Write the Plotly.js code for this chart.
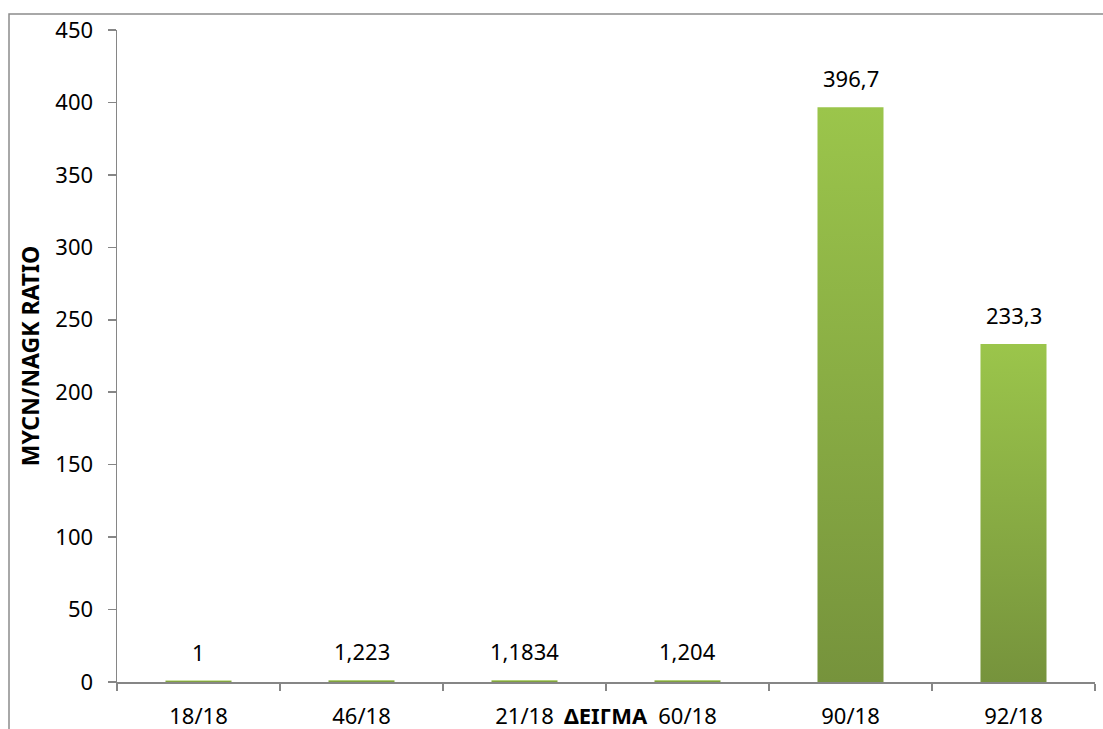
<!DOCTYPE html>
<html>
<head>
<meta charset="utf-8">
<script src="https://cdn.plot.ly/plotly-3.0.1.min.js"></script>
<style>
html,body{margin:0;padding:0;background:#fff;}
#chart{width:1103px;height:729px;}
</style>
</head>
<body>
<div id="chart"></div>
<script>
const categories = ["18/18", "46/18", "21/18", "60/18", "90/18", "92/18"];
const ratios = [1, 1.223, 1.1834, 1.204, 396.7, 233.3];
const yTicks = [0, 50, 100, 150, 200, 250, 300, 350, 400, 450];
const xTitle = "ΔΕΙΓΜΑ";
const yTitle = "MYCN/NAGK RATIO";

const labels = ratios.map(v => String(v).replace('.', ','));
const FONT = "Noto Sans, DejaVu Sans, sans-serif";
const FS = 22;

const W = 1103, H = 729;
const margin = {l: 117, r: 8, t: 30, b: 47};
const pw = W - margin.l - margin.r, ph = H - margin.t - margin.b;
const px = x => (x - margin.l) / pw;
const py = y => (H - margin.b - y) / ph;

const trace = {
  type: 'bar',
  x: categories,
  y: ratios,
  width: 0.405,
  marker: {color: '#8AAE45', line: {width: 0}},
  hoverinfo: 'none'
};

const annotations = categories.map((c, i) => ({
  x: c, y: ratios[i], xref: 'x', yref: 'y',
  text: labels[i], showarrow: false,
  yanchor: 'middle', yshift: 29,
  font: {family: FONT, size: FS, color: '#000'}
}));
annotations.push({
  xref: 'paper', yref: 'paper', x: 0.5, y: 0, yanchor: 'middle', yshift: -33,
  borderpad: 0,
  text: '<b>' + xTitle + '</b>', showarrow: false,
  font: {family: FONT, size: 22, color: '#000'}
});

const layout = {
  width: W, height: H,
  margin: margin,
  paper_bgcolor: '#fff', plot_bgcolor: '#fff',
  showlegend: false,
  xaxis: {
    type: 'category',
    showgrid: false, zeroline: false,
    showline: true, linecolor: '#868686', linewidth: 1.5,
    ticks: 'outside', tickson: 'boundaries', ticklen: 7, tickcolor: '#868686', tickwidth: 1.5,
    tickfont: {family: FONT, size: FS, color: '#000'},
    ticklabelstandoff: 14,
    fixedrange: true
  },
  yaxis: {
    range: [0, 450],
    tickvals: yTicks,
    showgrid: false, zeroline: false,
    showline: true, linecolor: '#868686', linewidth: 1.5,
    ticks: 'outside', ticklen: 8, tickcolor: '#868686', tickwidth: 1.5,
    tickfont: {family: FONT, size: FS, color: '#000'},
    ticklabelstandoff: 10,
    title: {text: '<b>' + yTitle + '</b>', font: {family: FONT, size: 23, color: '#000'}, standoff: 9},
    fixedrange: true
  },
  annotations: annotations,
  shapes: [{
    type: 'rect', xref: 'paper', yref: 'paper',
    x0: px(9), x1: px(1106), y0: py(740), y1: py(14),
    line: {color: '#8c8c8c', width: 1.5}, fillcolor: 'rgba(0,0,0,0)', layer: 'below'
  }]
};

Plotly.newPlot('chart', [trace], layout, {displayModeBar: false, staticPlot: true}).then(gd => {
  const svg = gd.querySelector('svg.main-svg');
  const ns = 'http://www.w3.org/2000/svg';
  let defs = svg.querySelector('defs');
  if (!defs) { defs = document.createElementNS(ns, 'defs'); svg.insertBefore(defs, svg.firstChild); }
  const lg = document.createElementNS(ns, 'linearGradient');
  lg.setAttribute('id', 'barGrad');
  lg.setAttribute('x1', '0'); lg.setAttribute('y1', '0');
  lg.setAttribute('x2', '0'); lg.setAttribute('y2', '1');
  [['0', '#9BC54B'], ['1', '#76933C']].forEach(([o, c]) => {
    const s = document.createElementNS(ns, 'stop');
    s.setAttribute('offset', o); s.setAttribute('stop-color', c);
    lg.appendChild(s);
  });
  defs.appendChild(lg);
  gd.querySelectorAll('.bars .point path').forEach(p => { p.style.fill = 'url(#barGrad)'; });
});
</script>
</body>
</html>
